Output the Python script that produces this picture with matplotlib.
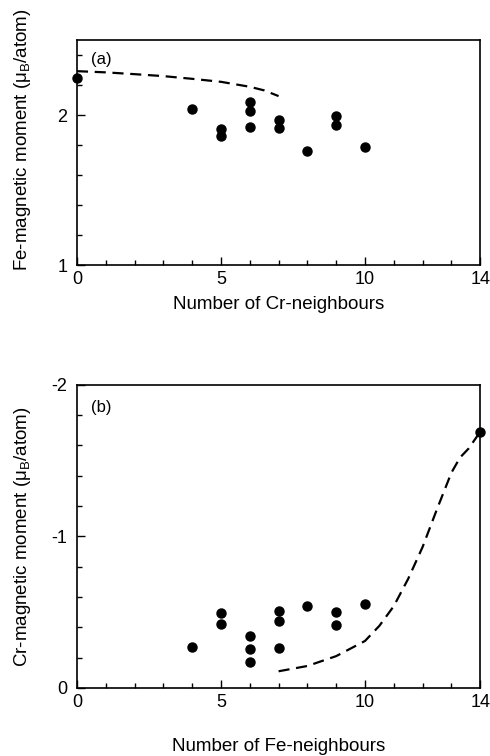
import matplotlib
matplotlib.use('Agg')
import matplotlib.pyplot as plt
from matplotlib.ticker import MultipleLocator

plt.rcParams['font.family'] = ['Liberation Sans', 'DejaVu Sans']
plt.rcParams['mathtext.fontset'] = 'custom'
plt.rcParams['mathtext.rm'] = 'Liberation Sans'
plt.rcParams['mathtext.it'] = 'Liberation Sans'

# (a) Fe moments vs number of Cr neighbours
fe_x = [0, 4, 5, 5, 6, 6, 6, 7, 7, 8, 9, 9, 10]
fe_y = [2.25, 2.044, 1.91, 1.862, 2.089, 2.027, 1.918, 1.971, 1.916, 1.762, 1.993, 1.933, 1.787]
fe_curve_x = [0, 1, 2, 3, 4, 5, 6, 6.5, 7]
fe_curve_y = [2.293, 2.285, 2.273, 2.26, 2.242, 2.222, 2.189, 2.165, 2.127]

# (b) Cr moments vs number of Fe neighbours
cr_x = [4, 5, 5, 6, 6, 6, 7, 7, 7, 8, 9, 9, 10, 14]
cr_y = [-0.270, -0.492, -0.422, -0.345, -0.259, -0.171, -0.510, -0.440, -0.262,
        -0.538, -0.499, -0.418, -0.556, -1.688]
cr_curve_x = [7, 8, 9, 10, 10.5, 11, 11.5, 12, 12.5, 13, 13.3, 13.6, 14]
cr_curve_y = [-0.11, -0.145, -0.21, -0.31, -0.41, -0.54, -0.72, -0.93, -1.18, -1.42, -1.52, -1.58, -1.69]

fig = plt.figure(figsize=(4.9, 7.56), dpi=100)
ax1 = fig.add_axes([0.157, 0.649, 0.823, 0.298])
ax2 = fig.add_axes([0.157, 0.090, 0.823, 0.401])


def style_axes(ax):
    ax.set_xlim(0, 14)
    ax.set_xticks([0, 5, 10, 14])
    ax.xaxis.set_minor_locator(MultipleLocator(1))
    ax.yaxis.set_minor_locator(MultipleLocator(0.2))
    ax.tick_params(which='both', direction='in', top=False, right=False,
                   labelsize=13, width=1)
    ax.tick_params(which='major', length=6)
    ax.tick_params(axis='y', which='major', pad=7)
    ax.tick_params(axis='x', which='major', pad=4)
    ax.tick_params(which='minor', length=3.5)
    for s in ax.spines.values():
        s.set_linewidth(1.2)


style_axes(ax1)
ax1.set_ylim(1, 2.5)
ax1.set_yticks([1, 2])
ax1.plot(fe_curve_x, fe_curve_y, 'k--', lw=1.6, dashes=(5, 3))
ax1.plot(fe_x, fe_y, 'ko', ms=6.5, clip_on=False)
ax1.text(0.5, 2.37, '(a)', fontsize=12, va='center')
ax1.set_xlabel('Number of Cr-neighbours', fontsize=13.5, labelpad=6)
ax1.set_ylabel(r'Fe-magnetic moment ($\mu_B$/atom)', fontsize=13.5)
ax1.yaxis.set_label_coords(-0.11, 0.556)

style_axes(ax2)
ax2.set_ylim(0, -2)
ax2.set_yticks([0, -1, -2])
ax2.set_yticklabels(['0', '-1', '-2'])
ax2.plot(cr_curve_x, cr_curve_y, 'k--', lw=1.6, dashes=(5, 3))
ax2.plot(cr_x, cr_y, 'ko', ms=6.5, clip_on=False)
ax2.text(0.5, -1.85, '(b)', fontsize=12, va='center')
ax2.set_xlabel('Number of Fe-neighbours', fontsize=13.5, labelpad=20)
ax2.set_ylabel(r'Cr-magnetic moment ($\mu_B$/atom)', fontsize=13.5)
ax2.yaxis.set_label_coords(-0.11, 0.5)

fig.savefig('out.png', dpi=100)
